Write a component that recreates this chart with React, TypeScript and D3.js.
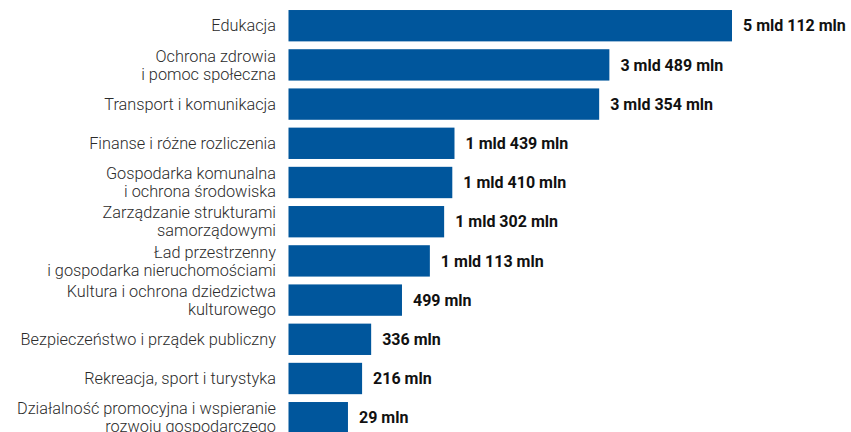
import React from "react";
import * as d3 from "d3";

const categories: string[][] = [
  ["Edukacja"],
  ["Ochrona zdrowia", "i pomoc społeczna"],
  ["Transport i komunikacja"],
  ["Finanse i różne rozliczenia"],
  ["Gospodarka komunalna", "i ochrona środowiska"],
  ["Zarządzanie strukturami", "samorządowymi"],
  ["Ład przestrzenny", "i gospodarka nieruchomościami"],
  ["Kultura i ochrona dziedzictwa", "kulturowego"],
  ["Bezpieczeństwo i prządek publiczny"],
  ["Rekreacja, sport i turystyka"],
  ["Działalność promocyjna i wspieranie", "rozwoju gospodarczego"],
];

// bar lengths as drawn in the picture (mln zł)
const values: number[] = [5112, 3489, 3354, 1439, 1410, 1302, 1113, 744, 336, 216, 29];

const valueLabels: string[] = [
  "5 mld 112 mln",
  "3 mld 489 mln",
  "3 mld 354 mln",
  "1 mld 439 mln",
  "1 mld 410 mln",
  "1 mld 302 mln",
  "1 mld 113 mln",
  "499 mln",
  "336 mln",
  "216 mln",
  "29 mln",
];

const W = 851;
const H = 432;
const BAR_X0 = 288.5;

export default function App() {
  const idx = categories.map((_, i) => i);
  const y = d3
    .scaleBand<number>()
    .domain(idx)
    .range([6.1, 437.3])
    .paddingInner(0.2)
    .paddingOuter(0.1);
  // x(0)=345.8, x(5112)=732
  const x = d3.scaleLinear().domain([-758, 5112]).range([BAR_X0, 732]);

  return (
    <svg
      width={W}
      height={H}
      style={{ position: "absolute", left: 0, top: 0, background: "#fff" }}
      fontFamily="Roboto, sans-serif"
    >
      {idx.map((i) => {
        const y0 = y(i)!;
        const bw = y.bandwidth();
        const cy = y0 + bw / 2;
        const lines = categories[i];
        const lh = 18;
        const startY = cy - ((lines.length - 1) * lh) / 2;
        return (
          <g key={i}>
            <rect
              x={BAR_X0}
              y={y0}
              width={x(values[i]) - BAR_X0}
              height={bw}
              fill="#00569c"
            />
            {lines.map((ln, k) => (
              <text
                key={k}
                x={276}
                y={startY + k * lh}
                dy="0.35em"
                textAnchor="end"
                fontSize={16.3}
                fontWeight={300}
                fill="#2b2b2b"
              >
                {ln}
              </text>
            ))}
            <text
              x={x(values[i]) + 11}
              y={cy}
              dy="0.35em"
              fontSize={16}
              fontWeight={700}
              fill="#111"
            >
              {valueLabels[i]}
            </text>
          </g>
        );
      })}
    </svg>
  );
}
